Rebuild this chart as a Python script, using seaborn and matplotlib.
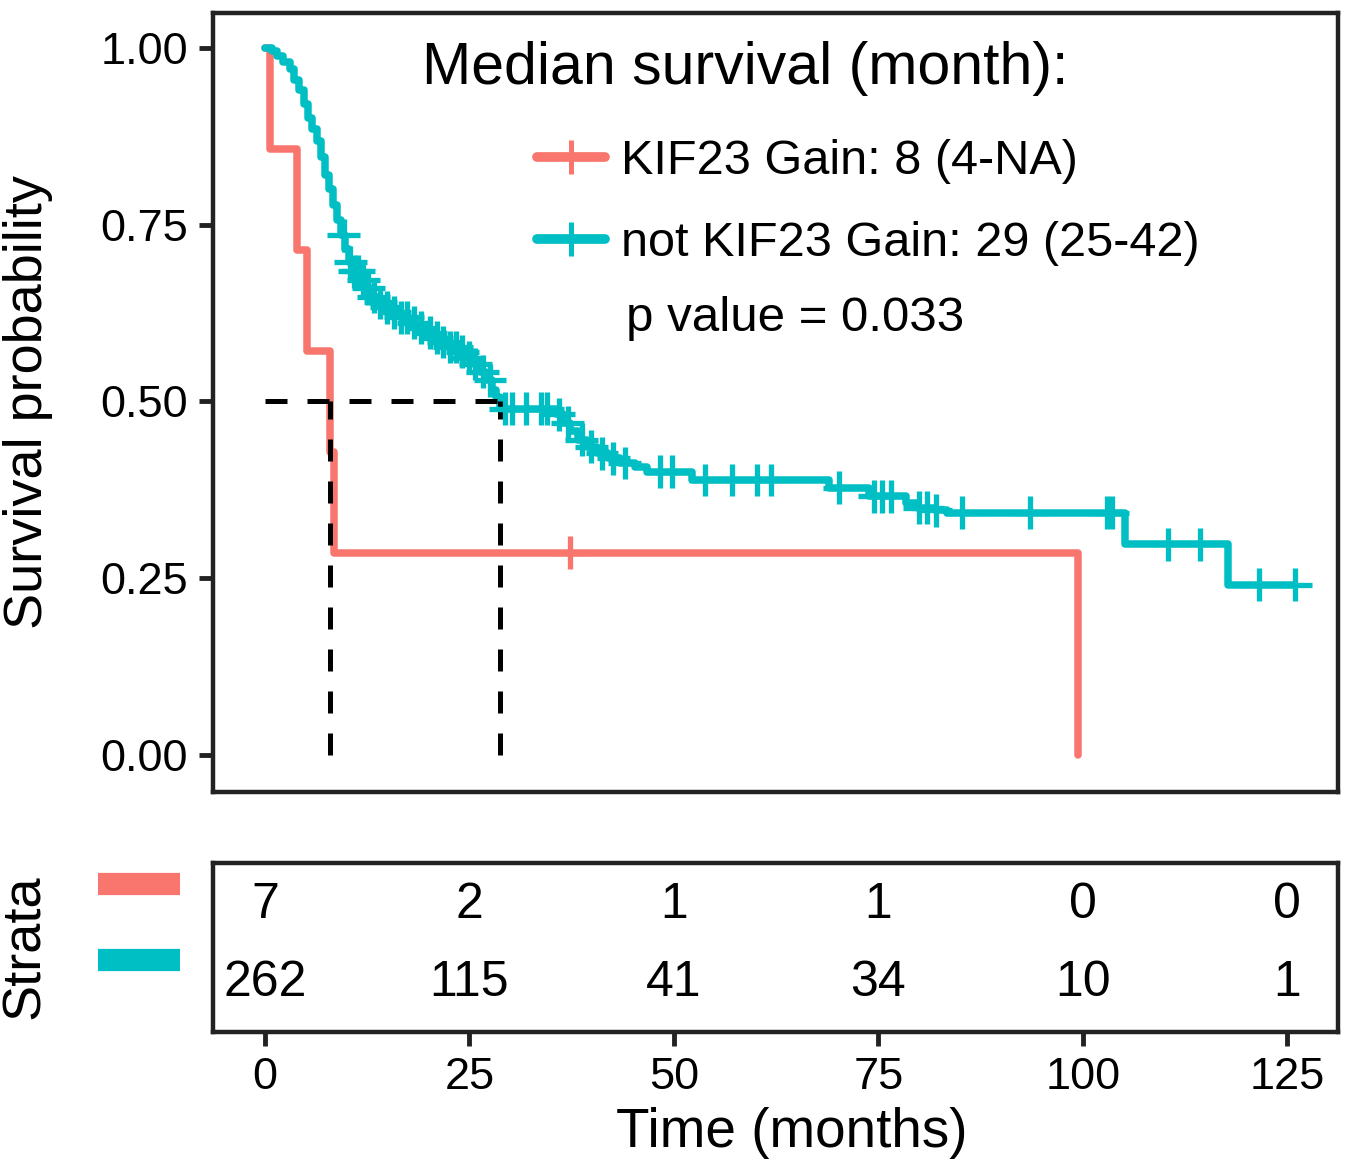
import numpy as np
import pandas as pd
import seaborn as sns
import matplotlib.pyplot as plt
from matplotlib.lines import Line2D

# Kaplan-Meier steps (time in months, survival after the step)
group_labels = ['KIF23 Gain', 'not KIF23 Gain']
legend_labels = ['KIF23 Gain: 8 (4-NA)', 'not KIF23 Gain: 29 (25-42)']
group_colors = ['#F8766D', '#00BFC4']

red_time = [0, 0.6, 3.9, 5.1, 7.95, 8.4, 99.4]
red_surv = [1.0, 0.857, 0.714, 0.571, 0.429, 0.286, 0.0]
red_censor = [37.3]

teal_time = [0, 0.8, 1.5, 2.2, 3.0, 3.6, 4.2, 4.8, 5.3, 5.8, 6.3, 6.8, 7.3, 7.8,
             8.3, 8.8, 9.3, 9.8, 10.3, 10.9, 11.5, 12.2, 13.0, 13.8, 14.6, 15.5,
             16.5, 17.5, 18.5, 19.5, 20.5, 21.5, 22.5, 23.5, 24.5, 25.5, 26.3,
             27.0, 27.7, 28.2, 28.7, 35.6, 36.4, 37.3, 38.3, 39.4, 40.6, 41.9,
             43.4, 45.2, 46.7, 52.2, 68.9, 73.9, 78.4, 79.8, 81.9, 83.4, 105.2,
             117.7, 126.0]
teal_surv = [1.0, 0.996, 0.988, 0.980, 0.970, 0.955, 0.940, 0.920, 0.900, 0.885,
             0.868, 0.845, 0.820, 0.800, 0.778, 0.756, 0.735, 0.715, 0.697, 0.684,
             0.672, 0.660, 0.648, 0.640, 0.633, 0.626, 0.619, 0.611, 0.604, 0.597,
             0.590, 0.584, 0.577, 0.570, 0.562, 0.553, 0.542, 0.530, 0.516, 0.506,
             0.490, 0.482, 0.470, 0.458, 0.446, 0.436, 0.427, 0.420, 0.413, 0.407,
             0.401, 0.389, 0.378, 0.366, 0.357, 0.350, 0.346, 0.343, 0.298, 0.241,
             0.241]
teal_censor = [9.6, 10.4, 10.9, 11.4, 12.0, 12.6, 13.3, 14.1, 14.9, 15.8, 16.6,
               17.4, 18.2, 19.1, 20.2, 21.0, 21.8, 22.6, 23.4, 24.1, 24.9, 25.7,
               26.6, 27.5, 29.4, 30.2, 31.9, 33.8, 34.5, 35.9, 37.0, 38.7, 39.9,
               41.2, 42.6, 44.0, 48.3, 49.8, 53.8, 57.1, 60.1, 61.9, 70.2, 74.5,
               75.5, 76.5, 80.0, 81.0, 82.0, 85.2, 93.5, 103.0, 103.6, 110.4,
               114.3, 121.5, 126.0]

median_times = [7.95, 28.7]
p_text = 'p value = 0.033'

# number at risk table
risk_times = [0, 25, 50, 75, 100, 125]
red_risk = [7, 2, 1, 1, 0, 0]
teal_risk = [262, 115, 41, 34, 10, 1]


def surv_at(times, surv, t):
    idx = np.searchsorted(times, t, side='right') - 1
    return np.asarray(surv)[idx]


curves = pd.concat([
    pd.DataFrame({'time': red_time, 'surv': red_surv, 'strata': group_labels[0]}),
    pd.DataFrame({'time': teal_time, 'surv': teal_surv, 'strata': group_labels[1]}),
])
censors = pd.concat([
    pd.DataFrame({'time': red_censor, 'surv': surv_at(red_time, red_surv, red_censor),
                  'strata': group_labels[0]}),
    pd.DataFrame({'time': teal_censor, 'surv': surv_at(teal_time, teal_surv, teal_censor),
                  'strata': group_labels[1]}),
])
palette = dict(zip(group_labels, group_colors))

sns.set_style('white')
plt.rcParams['font.family'] = ['Liberation Sans', 'DejaVu Sans']
for k in ('text.color', 'axes.labelcolor', 'xtick.color', 'ytick.color'):
    plt.rcParams[k] = 'black'
edge = '#222222'

fig = plt.figure(figsize=(13.5, 11.72), dpi=100)
ax = fig.add_axes([0.1578, 0.3242, 0.8333, 0.6647])
tab = fig.add_axes([0.1578, 0.1195, 0.8333, 0.1442])

sns.lineplot(data=curves, x='time', y='surv', hue='strata', palette=palette,
             drawstyle='steps-post', estimator=None, sort=False, lw=5.4,
             legend=False, ax=ax)
sns.scatterplot(data=censors, x='time', y='surv', hue='strata', palette=palette,
                marker='+', s=560, linewidth=3.8, legend=False, ax=ax, zorder=3)

# median lines
ax.plot([0, max(median_times)], [0.5, 0.5], color='black', lw=3.6, dashes=(4.4, 4))
for m in median_times:
    ax.plot([m, m], [0, 0.5], color='black', lw=3.6, dashes=(4.4, 4))

ax.set_xlim(-6.36, 131.2)
ax.set_ylim(-0.052, 1.049)
ax.set_xticks([])
ax.set_yticks([0, 0.25, 0.5, 0.75, 1.0])
ax.set_yticklabels(['0.00', '0.25', '0.50', '0.75', '1.00'])
ax.set_xlabel('')
ax.set_ylabel('')
ax.tick_params(axis='y', labelsize=32.5, length=10, width=3.5, color=edge, pad=8,
               left=True)

handles = [Line2D([], [], color=c, lw=7, marker='+', markersize=24, mew=3.6)
           for c in group_colors]
ax.text(0.473, 0.929, 'Median survival (month):', transform=ax.transAxes,
        fontsize=42.5, ha='center', va='center')
ax.legend(handles, legend_labels, loc='upper left', bbox_to_anchor=(0.288, 0.838),
          frameon=False, fontsize=35, handlelength=1.4, handletextpad=0.33,
          borderpad=0, borderaxespad=0, labelspacing=0.75)
ax.text(0.517, 0.608, p_text, transform=ax.transAxes, fontsize=35.5,
        ha='center', va='center')

# risk table
for t, n in zip(risk_times, red_risk):
    tab.text(t, 2, str(n), ha='center', va='center', fontsize=36)
for t, n in zip(risk_times, teal_risk):
    tab.text(t, 1, str(n), ha='center', va='center', fontsize=36)
tab.set_xlim(ax.get_xlim())
tab.set_ylim(0.37, 2.54)
tab.set_yticks([])
tab.set_xticks(risk_times)
tab.tick_params(axis='x', labelsize=32.5, length=10, width=3.5, color=edge, pad=8,
                bottom=True)
for y, c in zip([0.876, 0.426], group_colors):
    tab.plot([-0.102, -0.029], [y, y], color=c, lw=16, solid_capstyle='butt',
             transform=tab.transAxes, clip_on=False)

for a in (ax, tab):
    for s in a.spines.values():
        s.set_visible(True)
        s.set_color(edge)
        s.set_linewidth(3.2)

fig.text(28 / 1350, 1 - 402 / 1172, 'Survival probability', rotation=90,
         fontsize=39, ha='center', va='center')
fig.text(25 / 1350, 1 - 947 / 1172, 'Strata', rotation=90,
         fontsize=39, ha='center', va='center')
fig.text(792 / 1350, 1 - 1133 / 1172, 'Time (months)', fontsize=39.5,
         ha='center', va='center')

fig.savefig('out.png', dpi=100)
